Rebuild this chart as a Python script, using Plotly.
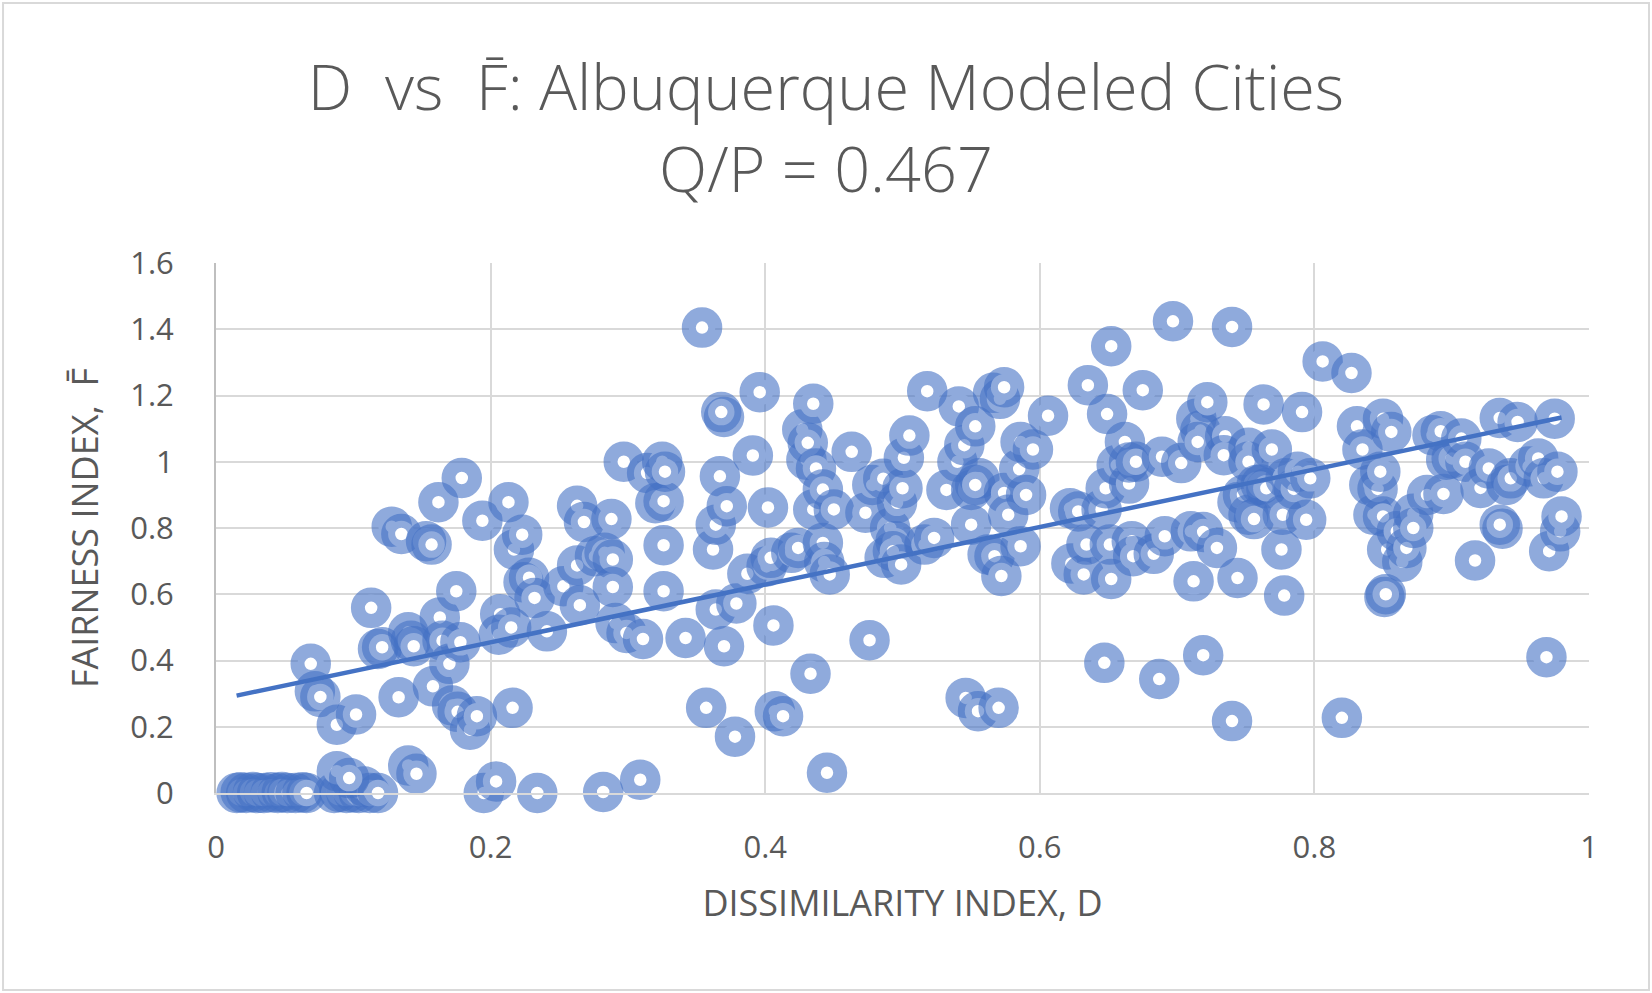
import plotly.graph_objects as go

# ---- data ----
D_values = [
    0.015, 0.018, 0.022, 0.027, 0.030, 0.035, 0.040, 0.045, 0.048, 0.052, 0.058, 0.063, 0.066,
    0.086, 0.090, 0.095, 0.100, 0.104, 0.108, 0.112, 0.118, 0.088, 0.097, 0.140, 0.146,
    0.069, 0.072, 0.076, 0.088, 0.102, 0.113, 0.118, 0.121, 0.128, 0.135, 0.133, 0.140, 0.142,
    0.144, 0.153, 0.157, 0.158, 0.162, 0.163, 0.165, 0.170, 0.172, 0.176, 0.175, 0.179, 0.178,
    0.185, 0.190, 0.194, 0.195, 0.204, 0.234, 0.207, 0.206, 0.215, 0.213, 0.217, 0.216, 0.223,
    0.224, 0.228, 0.232, 0.241, 0.253, 0.263, 0.268, 0.265, 0.263, 0.276, 0.283, 0.289, 0.282,
    0.288, 0.289, 0.291, 0.299, 0.297, 0.309, 0.311, 0.314, 0.320, 0.326, 0.325, 0.327, 0.326,
    0.326, 0.342, 0.354, 0.357, 0.362, 0.364, 0.364, 0.370, 0.368, 0.367, 0.372, 0.370, 0.378,
    0.379, 0.387, 0.391, 0.396, 0.402, 0.401, 0.404, 0.406, 0.407, 0.413, 0.419, 0.424, 0.427,
    0.430, 0.431, 0.433, 0.435, 0.435, 0.437, 0.442, 0.442, 0.443, 0.445, 0.447, 0.450, 0.463,
    0.473, 0.476, 0.478, 0.486, 0.487, 0.491, 0.495, 0.493, 0.499, 0.496, 0.500, 0.501, 0.505,
    0.516, 0.518, 0.523, 0.532, 0.541, 0.540, 0.545, 0.546, 0.550, 0.550, 0.553, 0.555, 0.556,
    0.553, 0.562, 0.566, 0.567, 0.572, 0.570, 0.571, 0.574, 0.574, 0.577, 0.585, 0.586, 0.586,
    0.590, 0.595, 0.606, 0.622, 0.628, 0.623, 0.632, 0.634, 0.635, 0.645, 0.647, 0.649, 0.651,
    0.652, 0.652, 0.648, 0.656, 0.662, 0.665, 0.665, 0.667, 0.668, 0.670, 0.675, 0.683, 0.687,
    0.689, 0.691, 0.697, 0.703, 0.710, 0.712, 0.714, 0.717, 0.715, 0.719, 0.719, 0.722, 0.729,
    0.735, 0.734, 0.740, 0.740, 0.744, 0.744, 0.748, 0.752, 0.752, 0.752, 0.756, 0.758, 0.763,
    0.761, 0.765, 0.769, 0.776, 0.778, 0.777, 0.779, 0.785, 0.788, 0.791, 0.794, 0.797, 0.806,
    0.820, 0.827, 0.831, 0.835, 0.840, 0.843, 0.846, 0.848, 0.850, 0.850, 0.851, 0.852, 0.853,
    0.856, 0.860, 0.864, 0.867, 0.872, 0.872, 0.882, 0.886, 0.892, 0.894, 0.896, 0.900, 0.907,
    0.910, 0.917, 0.921, 0.927, 0.935, 0.937, 0.935, 0.940, 0.943, 0.948, 0.956, 0.963, 0.969,
    0.967, 0.971, 0.975, 0.977, 0.979, 0.980,
]
F_values = [
    0.000, 0.002, 0.000, 0.003, 0.000, 0.000, 0.002, 0.000, 0.003, 0.000, 0.000, 0.002, 0.000,
    0.000, 0.003, 0.000, 0.002, 0.000, 0.020, 0.000, 0.000, 0.066, 0.045, 0.083, 0.058,
    0.390, 0.307, 0.290, 0.206, 0.237, 0.559, 0.435, 0.440, 0.804, 0.782, 0.289, 0.485, 0.460,
    0.443, 0.760, 0.750, 0.322, 0.878, 0.530, 0.460, 0.390, 0.264, 0.245, 0.609, 0.951, 0.455,
    0.191, 0.232, 0.822, 0.000, 0.035, 0.000, 0.540, 0.478, 0.500, 0.878, 0.735, 0.257, 0.780,
    0.636, 0.650, 0.589, 0.488, 0.624, 0.867, 0.818, 0.567, 0.687, 0.715, 0.725, 0.705, 0.003,
    0.827, 0.622, 0.513, 0.483, 1.000, 0.040, 0.465, 0.966, 0.875, 0.881, 1.000, 0.970, 0.748,
    0.609, 0.468, 1.405, 0.257, 0.735, 0.810, 0.554, 1.135, 1.150, 0.956, 0.866, 0.443, 0.170,
    0.572, 0.662, 1.019, 1.210, 0.862, 0.684, 0.710, 0.506, 0.247, 0.232, 0.725, 0.740, 1.097,
    1.006, 1.057, 0.360, 1.175, 0.856, 0.980, 0.916, 0.755, 0.697, 0.061, 0.660, 0.856, 1.030,
    0.846, 0.461, 0.930, 0.949, 0.710, 0.800, 0.760, 0.730, 0.690, 0.876, 0.920, 1.012, 1.079,
    0.750, 1.213, 0.770, 0.915, 1.167, 1.000, 1.050, 0.287, 0.915, 0.810, 1.107, 0.247, 0.950,
    0.930, 0.720, 1.208, 0.715, 0.655, 0.257, 1.190, 1.225, 0.906, 0.840, 0.978, 0.745, 1.060,
    0.900, 1.037, 1.139, 0.860, 0.850, 0.693, 0.660, 0.750, 1.231, 0.856, 0.393, 1.144, 0.750,
    0.646, 1.349, 0.920, 0.990, 1.060, 0.934, 0.998, 0.760, 0.715, 1.000, 1.216, 0.722, 0.344,
    1.015, 0.775, 1.424, 0.996, 0.790, 0.639, 1.130, 1.094, 1.060, 0.416, 0.788, 1.180, 0.740,
    1.077, 1.020, 0.217, 1.407, 0.878, 0.649, 0.900, 1.042, 1.000, 0.840, 0.827, 0.930, 1.173,
    0.931, 0.920, 1.037, 0.735, 0.596, 0.840, 0.950, 0.918, 0.970, 1.150, 0.825, 0.950, 1.303,
    0.227, 1.268, 1.107, 1.037, 0.930, 0.840, 0.918, 0.970, 1.130, 0.835, 0.592, 0.600, 0.735,
    1.090, 0.790, 0.698, 0.740, 0.843, 0.800, 0.900, 1.080, 1.092, 0.903, 1.006, 1.010, 1.070,
    1.000, 0.702, 0.921, 0.980, 1.132, 0.798, 0.810, 0.930, 0.950, 1.120, 0.986, 1.010, 0.410,
    0.950, 0.730, 1.130, 0.970, 0.790, 0.835,
]

# linear trendline
trend_slope = 0.87
trend_intercept = 0.281

x_ticks = [0, 0.2, 0.4, 0.6, 0.8, 1]
x_tick_labels = ["0", "0.2", "0.4", "0.6", "0.8", "1"]
y_ticks = [0, 0.2, 0.4, 0.6, 0.8, 1, 1.2, 1.4, 1.6]
y_tick_labels = ["0", "0.2", "0.4", "0.6", "0.8", "1", "1.2", "1.4", "1.6"]

title_line1 = "D  vs  F\u0304: Albuquerque Modeled Cities"
title_line2 = "Q/P = 0.467"
x_title = "DISSIMILARITY INDEX, D"
y_title = "FAIRNESS INDEX,  F\u0304"

# ---- figure ----
TEXT = "#595959"
GRID = "#D9D9D9"
FONT = "Open Sans"

fig = go.Figure()
fig.add_trace(go.Scatter(
    x=D_values, y=F_values, mode="markers", cliponaxis=False,
    marker=dict(symbol="circle", size=26.5, color="white",
                line=dict(width=14, color="rgba(68,114,196,0.6)")),
    showlegend=False, hoverinfo="skip",
))

tx = [min(D_values), max(D_values)]
ty = [trend_slope * v + trend_intercept for v in tx]
fig.add_trace(go.Scatter(
    x=tx, y=ty, mode="lines", cliponaxis=False,
    line=dict(color="#4472C4", width=4.5),
    showlegend=False, hoverinfo="skip",
))

fig.update_layout(
    width=1652, height=993,
    margin=dict(l=216, r=63, t=263, b=200),
    paper_bgcolor="white", plot_bgcolor="white",
    font=dict(family=FONT, color=TEXT),
    title=dict(
        text=title_line1 + "<br>" + title_line2,
        x=0.5, xref="container", xanchor="center",
        y=1 - 110 / 993, yref="container", yanchor="middle",
        font=dict(family=FONT, size=63, color=TEXT, weight=300),
    ),
    xaxis=dict(
        range=[0, 1], tickvals=x_ticks, ticktext=x_tick_labels,
        showgrid=True, gridcolor=GRID, gridwidth=2,
        zeroline=False, showline=True, linecolor=GRID, linewidth=2, mirror=False,
        ticks="", ticklabelstandoff=26,
        tickfont=dict(family=FONT, size=31, color=TEXT),
        title=dict(text=x_title, font=dict(family=FONT, size=36, color=TEXT), standoff=25),
        fixedrange=True,
    ),
    yaxis=dict(
        range=[0, 1.6], tickvals=y_ticks, ticktext=y_tick_labels,
        showgrid=True, gridcolor=GRID, gridwidth=2,
        zeroline=False, showline=True, linecolor="#BFBFBF", linewidth=2,
        ticks="", ticklabelstandoff=34,
        tickfont=dict(family=FONT, size=31, color=TEXT),
        title=dict(text=y_title, font=dict(family=FONT, size=36, color=TEXT), standoff=21),
        fixedrange=True,
    ),
    shapes=[dict(
        type="rect", xref="paper", yref="paper",
        x0=-0.1551, x1=1.0437, y0=-0.3717, y1=1.4906,
        line=dict(color=GRID, width=2), fillcolor="rgba(0,0,0,0)", layer="below",
    )],
)

fig.write_html("out.html", config={"displayModeBar": False},
               post_script="document.body.style.margin='0';")
